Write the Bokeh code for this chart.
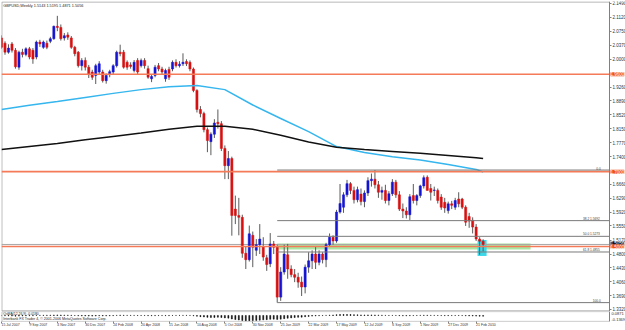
from bokeh.plotting import figure
from bokeh.layouts import column
from bokeh.models import Range1d, FixedTicker, Label, PrintfTickFormatter
from bokeh.core.properties import value
from bokeh.embed import file_html
from bokeh.resources import INLINE

# ---------------- data (GBPUSD weekly) ----------------
opens = [2.057, 2.043, 2.019, 2.041, 2.024, 1.979, 2.019, 2.013, 2.028, 2.024,
         2.006, 2.046, 2.032, 2.043, 2.048, 2.055, 2.088, 2.085, 2.057, 2.065,
         2.057, 2.032, 2.019, 1.983, 1.997, 1.979, 1.966, 1.957, 1.966, 1.966,
         1.943, 1.959, 1.966, 1.983, 2.019, 2.019, 1.992, 1.985, 1.970, 1.997,
         1.983, 1.997, 1.975, 1.948, 1.957, 1.983, 1.974, 1.948, 1.973, 1.974,
         1.992, 1.983, 1.988, 1.994, 1.992, 1.974, 1.917, 1.866, 1.855, 1.812,
         1.780, 1.800, 1.832, 1.828, 1.762, 1.716, 1.735, 1.600, 1.583, 1.578,
         1.482, 1.465, 1.530, 1.490, 1.505, 1.500, 1.470, 1.454, 1.507, 1.498,
         1.365, 1.432, 1.478, 1.440, 1.425, 1.418, 1.405, 1.392, 1.445, 1.462,
         1.480, 1.458, 1.480, 1.465, 1.505, 1.525, 1.515, 1.592, 1.605, 1.638,
         1.668, 1.650, 1.625, 1.640, 1.620, 1.643, 1.676, 1.680, 1.665, 1.645,
         1.650, 1.623, 1.641, 1.672, 1.638, 1.600, 1.595, 1.585, 1.636, 1.623,
         1.636, 1.662, 1.685, 1.655, 1.650, 1.650, 1.632, 1.618, 1.596, 1.614,
         1.605, 1.627, 1.627, 1.605, 1.580, 1.570, 1.552, 1.520, 1.5143]
highs = [2.064, 2.048, 2.040, 2.046, 2.030, 2.023, 2.028, 2.032, 2.033, 2.030,
         2.050, 2.052, 2.050, 2.050, 2.060, 2.090, 2.116, 2.093, 2.070, 2.072,
         2.062, 2.036, 2.022, 2.003, 2.005, 1.985, 1.972, 1.988, 1.995, 1.972,
         1.962, 1.972, 1.987, 2.023, 2.039, 2.025, 1.997, 1.992, 1.998, 2.003,
         2.002, 2.003, 1.983, 1.960, 1.985, 1.990, 1.980, 1.975, 1.980, 1.997,
         2.000, 1.995, 2.016, 2.000, 1.997, 1.978, 1.920, 1.875, 1.860, 1.818,
         1.805, 1.840, 1.866, 1.835, 1.770, 1.755, 1.740, 1.636, 1.630, 1.585,
         1.500, 1.556, 1.540, 1.520, 1.560, 1.525, 1.478, 1.536, 1.515, 1.505,
         1.445, 1.505, 1.507, 1.450, 1.440, 1.430, 1.420, 1.452, 1.485, 1.490,
         1.500, 1.490, 1.485, 1.510, 1.535, 1.530, 1.598, 1.667, 1.645, 1.678,
         1.672, 1.660, 1.660, 1.655, 1.650, 1.685, 1.695, 1.7043, 1.675, 1.660,
         1.665, 1.648, 1.680, 1.678, 1.648, 1.615, 1.605, 1.640, 1.667, 1.640,
         1.665, 1.690, 1.690, 1.667, 1.660, 1.655, 1.640, 1.630, 1.620, 1.622,
         1.630, 1.645, 1.630, 1.610, 1.590, 1.578, 1.560, 1.525, 1.5195]
lows = [2.028, 2.012, 2.015, 2.018, 1.975, 1.972, 2.005, 2.008, 2.000, 1.988,
        2.000, 2.033, 2.028, 2.027, 2.043, 2.052, 2.075, 2.050, 2.050, 2.052,
        2.028, 2.008, 1.978, 1.970, 1.970, 1.950, 1.945, 1.934, 1.960, 1.938,
        1.935, 1.952, 1.960, 1.978, 2.008, 1.975, 1.972, 1.975, 1.965, 1.960,
        1.978, 1.975, 1.948, 1.939, 1.952, 1.968, 1.960, 1.940, 1.945, 1.968,
        1.978, 1.978, 1.982, 1.982, 1.968, 1.912, 1.858, 1.845, 1.805, 1.752,
        1.744, 1.790, 1.815, 1.755, 1.680, 1.680, 1.529, 1.560, 1.530, 1.470,
        1.440, 1.460, 1.445, 1.475, 1.480, 1.462, 1.435, 1.445, 1.480, 1.3503,
        1.355, 1.425, 1.414, 1.418, 1.405, 1.390, 1.368, 1.375, 1.430, 1.440,
        1.440, 1.450, 1.455, 1.445, 1.500, 1.505, 1.510, 1.588, 1.590, 1.632,
        1.640, 1.615, 1.618, 1.610, 1.605, 1.635, 1.660, 1.655, 1.630, 1.625,
        1.615, 1.610, 1.635, 1.630, 1.595, 1.576, 1.575, 1.571, 1.615, 1.610,
        1.630, 1.655, 1.650, 1.623, 1.635, 1.615, 1.598, 1.590, 1.588, 1.600,
        1.598, 1.605, 1.600, 1.555, 1.550, 1.535, 1.515, 1.4781, 1.4871]
closes = [2.032, 2.019, 2.030, 2.024, 1.980, 2.019, 2.013, 2.028, 2.006, 2.001,
          2.046, 2.041, 2.046, 2.032, 2.055, 2.088, 2.085, 2.055, 2.063, 2.059,
          2.032, 2.015, 1.983, 1.997, 1.979, 1.959, 1.952, 1.983, 1.988, 1.943,
          1.957, 1.967, 1.983, 2.019, 2.015, 1.979, 1.979, 1.981, 1.992, 1.966,
          1.997, 1.983, 1.952, 1.954, 1.979, 1.974, 1.966, 1.970, 1.952, 1.992,
          1.983, 1.987, 1.992, 1.988, 1.974, 1.917, 1.866, 1.855, 1.812, 1.783,
          1.800, 1.830, 1.828, 1.762, 1.716, 1.735, 1.583, 1.583, 1.578, 1.482,
          1.465, 1.534, 1.498, 1.505, 1.520, 1.472, 1.452, 1.507, 1.498, 1.365,
          1.432, 1.480, 1.440, 1.425, 1.418, 1.405, 1.392, 1.445, 1.462, 1.480,
          1.458, 1.480, 1.465, 1.505, 1.525, 1.515, 1.592, 1.615, 1.638, 1.668,
          1.650, 1.625, 1.652, 1.620, 1.643, 1.676, 1.680, 1.665, 1.645, 1.650,
          1.623, 1.641, 1.672, 1.638, 1.600, 1.595, 1.585, 1.633, 1.623, 1.636,
          1.662, 1.684, 1.650, 1.645, 1.651, 1.623, 1.605, 1.603, 1.614, 1.610,
          1.623, 1.614, 1.605, 1.565, 1.568, 1.552, 1.520, 1.5143, 1.5056]

osma = [-0.004, -0.008, -0.010, -0.012, -0.016, -0.014, -0.011, -0.008, -0.007, -0.006,
        -0.002, 0.002, 0.004, 0.005, 0.006, 0.010, 0.012, 0.010, 0.008, 0.006,
        0.003, -0.002, -0.008, -0.010, -0.012, -0.014, -0.015, -0.012, -0.009, -0.010,
        -0.009, -0.007, -0.004, 0.002, 0.006, 0.004, 0.002, 0.001, 0.001, -0.002,
        -0.001, -0.002, -0.005, -0.006, -0.004, -0.003, -0.003, -0.004, -0.004, -0.002,
        0.000, 0.001, 0.002, 0.002, 0.000,
        -0.008, -0.018, -0.028, -0.036, -0.045, -0.048, -0.046, -0.042, -0.048, -0.058,
        -0.064, -0.085, -0.098, -0.108, -0.120, -0.128, -0.125, -0.122, -0.118, -0.112,
        -0.105, -0.100, -0.092, -0.088, -0.095, -0.088, -0.076, -0.066, -0.058, -0.050,
        -0.044, -0.040, -0.030, -0.022, -0.015, -0.010, -0.006, -0.003, 0.002, 0.006,
        0.010, 0.018, 0.022, 0.024, 0.024, 0.022, 0.018, 0.015, 0.012, 0.011,
        0.012, 0.012, 0.010, 0.007, 0.004, 0.001, -0.001, 0.000, -0.002, -0.005,
        -0.008, -0.008, -0.005, -0.003, -0.001, 0.002, 0.004, 0.003, 0.002, 0.001,
        -0.001, -0.003, -0.004, -0.004, -0.003, -0.002, -0.002, -0.003, -0.007, -0.010,
        -0.012, -0.015, -0.017, -0.018]

# moving averages, sampled along the chart
ma_weeks = [0, 8, 16, 24, 32, 40, 48, 56, 64, 72, 80, 88, 96, 104, 112, 120, 128, 136, 138]
ma_fast = [1.866, 1.877, 1.887, 1.898, 1.909, 1.919, 1.927, 1.930, 1.919, 1.878,
           1.842, 1.807, 1.767, 1.751, 1.740, 1.731, 1.719, 1.706, 1.699]
ma_slow = [1.759, 1.767, 1.775, 1.785, 1.794, 1.803, 1.813, 1.821, 1.821, 1.813,
           1.797, 1.779, 1.765, 1.759, 1.754, 1.749, 1.743, 1.737, 1.735]

price_ticks = [2.1490, 2.1120, 2.0750, 2.0370, 2.0000, 1.9260, 1.8890, 1.8520, 1.8150,
               1.7770, 1.7400, 1.6660, 1.6290, 1.5920, 1.5550, 1.5170, 1.4800, 1.4430,
               1.4060, 1.3690, 1.3320]
date_ticks = [0, 8, 16, 24, 32, 40, 48, 56, 64, 72, 80, 88, 96, 104, 112, 120, 128, 136]
date_labels = ["15 Jul 2007", "9 Sep 2007", "4 Nov 2007", "30 Dec 2007", "24 Feb 2008",
               "20 Apr 2008", "15 Jun 2008", "10 Aug 2008", "5 Oct 2008", "30 Nov 2008",
               "25 Jan 2009", "22 Mar 2009", "17 May 2009", "12 Jul 2009", "6 Sep 2009",
               "1 Nov 2009", "27 Dec 2009", "21 Feb 2010"]

hlines = [1.9600, 1.7000, 1.5000]
hline_labels = ["1.9600", "1.7000", "1.5000"]
bid_price = 1.5056
fib_prices = [1.7043, 1.5692, 1.5273, 1.4855, 1.3503]
fib_labels = ["0.0", "38.2  1.5692", "50.0  1.5273", "61.8  1.4855", "100.0"]
fib_start_week = 79
green_zone = (79, 151.6, 1.492, 1.508)      # left, right, bottom, top
cyan_zone = (136.4, 139.0, 1.4749, 1.5176)
osma_range = [0.0871, -0.1369]
osma_range_labels = ["0.0871", "-0.1369"]

# ---------------- layout ----------------
PX = 3.49                 # pixels per week
FRAME_W = 624
X_END = FRAME_W / PX
X_AXIS = 608 / PX         # where the price scale sits
Y0, Y1 = 1.3266, 2.1543
FONT = value("Liberation Sans")
weeks = list(range(len(opens)))

main = figure(frame_width=FRAME_W, frame_height=310,
              x_range=Range1d(0, X_END), y_range=Range1d(Y0, Y1),
              output_backend="svg", toolbar_location=None,
              x_axis_location=None, y_axis_location="right",
              min_border_left=1, min_border_right=0, min_border_top=1, min_border_bottom=0)
main.grid.visible = False
main.background_fill_color = "white"
main.border_fill_color = "white"
main.outline_line_color = None

ax = main.yaxis[0]
ax.fixed_location = X_AXIS
ax.ticker = FixedTicker(ticks=price_ticks)
ax.formatter = PrintfTickFormatter(format="%.4f")
ax.major_label_text_font_size = "4.5px"
ax.major_label_text_font = "Liberation Sans"
ax.major_label_text_color = "#333333"
ax.major_tick_out = 2
ax.major_tick_in = 0
ax.minor_tick_out = 0
ax.minor_tick_in = 0
ax.major_label_standoff = 1
ax.axis_line_color = "#808080"
ax.major_tick_line_color = "#808080"

# chart border
main.quad(left=[0.1], right=[X_AXIS], bottom=[Y0 + 0.0015], top=[Y1 - 0.0013],
          fill_color=None, line_color="#a0a0a0", line_width=1)

# zones
main.quad(left=[green_zone[0]], right=[green_zone[1]], bottom=[green_zone[2]], top=[green_zone[3]],
          fill_color="#A9E6A0", line_color=None)
main.quad(left=[cyan_zone[0]], right=[cyan_zone[1]], bottom=[cyan_zone[2]], top=[cyan_zone[3]],
          fill_color="#3AD9EA", line_color=None)

# bid line
main.segment(x0=[0], x1=[X_AXIS], y0=[bid_price], y1=[bid_price], line_color="#A8A8A8", line_width=1)

# candles
bull = "#1414D2"
bear = "#D81010"
colors = [bull if c >= o else bear for o, c in zip(opens, closes)]
tops = [max(o, c) for o, c in zip(opens, closes)]
bots = [min(o, c) for o, c in zip(opens, closes)]
main.segment(x0=weeks, x1=weeks, y0=lows, y1=highs, line_color="#5a5a5a", line_width=1)
main.vbar(x=weeks, width=0.62, top=tops, bottom=bots, fill_color=colors, line_color=colors, line_width=0.5)

# moving averages
main.line(ma_weeks, ma_fast, line_color="#35B6EE", line_width=1.5)
main.line(ma_weeks, ma_slow, line_color="#111111", line_width=1.5)

# horizontal lines
for h in hlines:
    main.segment(x0=[0], x1=[X_AXIS], y0=[h], y1=[h], line_color="#F47A58", line_width=1.6)

# fibonacci
main.segment(x0=[fib_start_week] * len(fib_prices), x1=[X_AXIS] * len(fib_prices),
             y0=fib_prices, y1=fib_prices, line_color="#7a7a7a", line_width=1)
main.text(x=[171.7] * len(fib_prices), y=fib_prices, text=fib_labels, text_align="right",
          text_baseline="bottom", text_font_size="3.2px", text_color="#404040", text_font=FONT,
          y_offset=-0.5)

# title
main.add_layout(Label(x=0.5, y=Y1, y_offset=-2, text="GBPUSD,Weekly  1.5143 1.5195 1.4871 1.5056",
                      text_baseline="top", text_align="left", text_font_size="3.8px",
                      text_font="Liberation Sans", text_color="#222222"))

# price boxes on the scale
main.add_layout(Label(x=X_AXIS, y=bid_price, x_offset=1, y_offset=1, text="1.5056", text_baseline="middle",
                      text_align="left", text_font_size="4.5px", text_font="Liberation Sans",
                      text_color="white", background_fill_color="#14142a"))
for h, t in zip(hlines, hline_labels):
    main.add_layout(Label(x=X_AXIS, y=h, x_offset=1, text=t, text_baseline="middle",
                          text_align="left", text_font_size="4.5px", text_font="Liberation Sans",
                          text_color="white", background_fill_color="#F0501E"))

# ---------------- indicator window ----------------
S0, S1 = -0.1369, 0.0871
sub = figure(frame_width=FRAME_W, frame_height=10,
             x_range=main.x_range, y_range=Range1d(S0 - 0.008, S1 + 0.008),
             output_backend="svg", toolbar_location=None,
             x_axis_location="below", y_axis_location=None,
             min_border_left=1, min_border_right=0, min_border_top=0, min_border_bottom=0)
sub.grid.visible = False
sub.background_fill_color = "white"
sub.border_fill_color = "white"
sub.outline_line_color = None
sub.quad(left=[0.1], right=[X_AXIS], bottom=[S0 - 0.006], top=[S1 + 0.006],
         fill_color=None, line_color="#a0a0a0", line_width=1)
sub.segment(x0=[X_AXIS], x1=[X_AXIS], y0=[S0 - 0.008], y1=[S1 + 0.008], line_color="#808080")
sub.vbar(x=weeks, width=0.28, top=[max(v, 0) for v in osma], bottom=[min(v, 0) for v in osma],
         fill_color="#000000", line_color="#000000", line_width=0.5)
sub.add_layout(Label(x=0.5, y=S1, text="OsMA(12,26,9) -0.0180", text_baseline="top",
                     text_font_size="3.4px", text_font="Liberation Sans", text_color="#222222"))
sub.add_layout(Label(x=0.5, y=-0.035, text="Interbank FX Trader 4, \u00a9 2001-2006 MetaQuotes Software Corp.",
                     text_baseline="top", text_font_size="3.6px", text_font="Liberation Sans",
                     text_color="#222222"))
sub.text(x=[X_AXIS, X_AXIS], y=osma_range, text=osma_range_labels, x_offset=2,
         text_baseline=["top", "bottom"], text_font_size="4px", text_font=FONT, text_color="#333333")

xa = sub.xaxis[0]
xa.ticker = FixedTicker(ticks=date_ticks)
xa.major_label_overrides = {t: s for t, s in zip(date_ticks, date_labels)}
xa.major_label_orientation = -0.0001
xa.major_label_text_font_size = "3.5px"
xa.major_label_text_font = "Liberation Sans"
xa.major_label_text_color = "#333333"
xa.major_tick_out = 2
xa.major_tick_in = 0
xa.minor_tick_out = 0
xa.minor_tick_in = 0
xa.major_label_standoff = 1
xa.axis_line_color = None
xa.major_tick_line_color = "#808080"

layout = column(main, sub, spacing=0)
open("out.html", "w").write(file_html(layout, INLINE))
